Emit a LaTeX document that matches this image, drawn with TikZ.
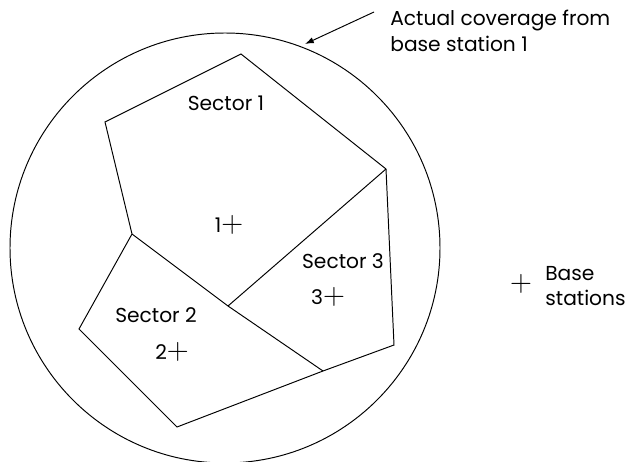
\documentclass[tikz,border=0pt]{standalone}
\usepackage{fontspec}
\setmainfont{Poppins}
\usetikzlibrary{arrows.meta,positioning}
\newcommand{\bsplus}{{\LARGE$+$}}

\begin{document}
\begin{tikzpicture}[
  x=0.02cm, y=-0.02cm,
  edge/.style={line width=0.55pt},
  lbl/.style={font=\fontsize{11.5}{14.5}\selectfont, inner sep=0pt},
  note/.style={lbl, align=left}
]
\useasboundingbox (0,0) rectangle (625,462);
\coordinate (c) at (225,248);
\draw[edge] (c) circle [radius=215];
\coordinate (v1) at (105,122);
\coordinate (v2) at (241,54);
\coordinate (v3) at (386,169);
\coordinate (v4) at (394,345);
\coordinate (v5) at (323,371);
\coordinate (v6) at (177,427);
\coordinate (v7) at (79,329);
\coordinate (j1) at (132,234);
\coordinate (j0) at (228,306);
\draw[edge] (j1) -- (v1) -- (v2) -- (v3) -- (v4) -- (v5) -- (v6) -- (v7) -- cycle;
\draw[edge] (j1) -- (j0) -- (v5);
\draw[edge] (j0) -- (v3);
\node[lbl] (sec1) at (226,103) {Sector 1};
\node[lbl] (bs1) at (229,225) {1\bsplus};
\node[lbl] (sec3) at (343,261) {Sector 3};
\node[lbl] (bs3) at (328,297) {3\bsplus};
\node[lbl] (sec2) at (156,315) {Sector 2};
\node[lbl] (bs2) at (172,352) {2\bsplus};
\node[lbl] (key) at (521,284) {\bsplus};
\node[note, anchor=west] (keytext) at (545,286) {Base\\stations};
\node[note, anchor=west] (cov) at (390,31) {Actual coverage from\\base station 1};
\coordinate (arr) at (374,12);
\coordinate (tip) at (305,44);
\draw[edge, -{Latex[length=5pt, width=3.5pt]}] (arr) -- (tip);
\end{tikzpicture}
\end{document}
